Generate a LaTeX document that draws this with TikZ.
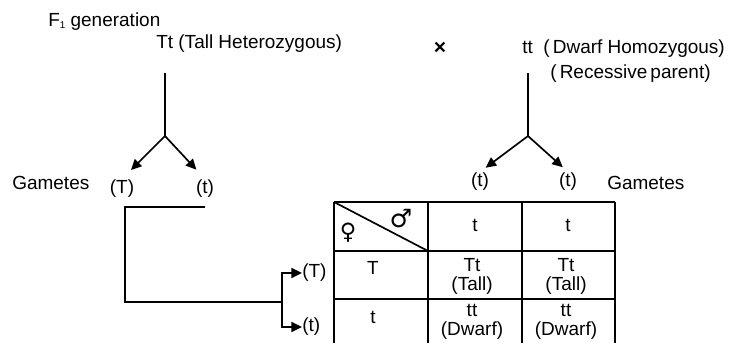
\documentclass[tikz,border=0pt]{standalone}
\usepackage{fontspec}
\setmainfont{Liberation Sans}
\newfontfamily\symfont{DejaVu Sans}
\usetikzlibrary{arrows.meta}
\tikzset{
  lbl/.style={font=\fontsize{13.5}{14}\selectfont, inner sep=0pt},
  cell/.style={font=\fontsize{13.5}{13.5}\selectfont, inner sep=0pt, align=center},
  conn/.style={line width=1.2pt},
  gam/.style={line width=1.2pt, -{Triangle[length=7.5pt,width=7pt]}},
  tab/.style={line width=1.4pt}
}

\begin{document}
\begin{tikzpicture}[x=0.025cm, y=-0.025cm]
\useasboundingbox (0,0) rectangle (736,343);
% ===== parents =====
\node[lbl, anchor=base west] (gen) at (48,26) {F\raisebox{-2pt}{\fontsize{7}{7}\selectfont 1} generation};
\node[lbl, anchor=base west] (tall) at (156,48) {Tt (Tall Heterozygous)};
\node[lbl, font=\bfseries\fontsize{15}{15}\selectfont] (cross) at (440,48) {×};
\node[lbl, anchor=base west] (dwarf) at (522,53) {tt\ \ (\,Dwarf Homozygous)};
\node[lbl, anchor=base west] (rec) at (550,78) {(\,Recessive\,parent)};
% ===== gamete forks =====
\coordinate (ltop) at (165,73);
\coordinate (lfork) at (165,136);
\coordinate (rtop) at (528,73);
\coordinate (rfork) at (528,136);
\node[lbl, anchor=base] (gT) at (122,193) {(T)};
\node[lbl, anchor=base] (gt) at (205,193) {(t)};
\node[lbl, anchor=base west] (gamL) at (12,189) {Gametes};
\node[lbl, anchor=base] (mt1) at (480,186) {(t)};
\node[lbl, anchor=base] (mt2) at (568,186) {(t)};
\node[lbl, anchor=base west] (gamR) at (607,189) {Gametes};
\draw[conn] (ltop) -- (lfork);
\draw[gam, shorten >=9pt] (lfork) -- (gT.north);
\draw[gam, shorten >=9pt] (lfork) -- (gt.north);
\draw[conn] (rtop) -- (rfork);
\draw[gam, shorten >=5pt] (rfork) -- (mt1.north);
\draw[gam, shorten >=5pt] (rfork) -- (mt2.north);
% ===== female gametes led down to the table =====
\coordinate (hs) at (205,207);
\coordinate (hc) at (125,207);
\coordinate (hj) at (282,302);
\node[lbl, anchor=west] (fT) at (302,273) {(T)};
\node[lbl, anchor=west] (ft) at (302,327) {(t)};
\draw[conn] (hs) -- (hc) |- (hj);
\draw[gam] (hj) |- (fT.west);
\draw[gam] (hj) |- (ft.west);
% ===== Punnett square =====
\foreach \x in {334,428,522,615}
  \draw[tab] (\x,202) -- (\x,343);
\foreach \y in {202,251,299}
  \draw[tab] (334,\y) -- (615,\y);
\draw[conn] (334,202) -- (428,251);
\node[font=\symfont\fontsize{16}{16}\selectfont, inner sep=0pt] (fem) at (348,233) {♀};
\node[font=\symfont\fontsize{18}{18}\selectfont, inner sep=0pt] (mal) at (401,219) {♂};
\node[cell] (m1) at (475,225) {t};
\node[cell] (m2) at (568,225) {t};
\node[cell] (f1) at (373,268) {T};
\node[cell] (f2) at (373,317) {t};
\node[cell] (c11) at (472,276) {Tt\\(Tall)};
\node[cell] (c12) at (566,276) {Tt\\(Tall)};
\node[cell] (c21) at (472,322) {tt\\(Dwarf)};
\node[cell] (c22) at (566,322) {tt\\(Dwarf)};
\end{tikzpicture}
\end{document}
